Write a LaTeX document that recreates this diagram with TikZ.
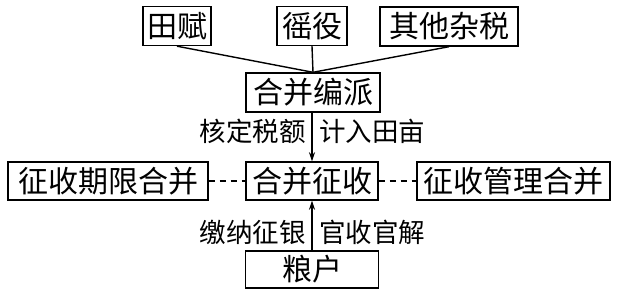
\documentclass[tikz,border=0pt]{standalone}
\usepackage{fontspec}
\newfontfamily\cjk{Noto Sans CJK SC}
\usetikzlibrary{arrows.meta}
\begin{document}
\begin{tikzpicture}[x=1pt,y=-1pt,
  box/.style={draw, line width=1.4pt, inner sep=0pt, minimum height=39pt, font=\cjk\fontsize{30}{30}\selectfont},
  lbl/.style={inner sep=0pt, font=\cjk\fontsize{26.5}{26.5}\selectfont},
  conn/.style={line width=1.4pt},
  arr/.style={line width=1.4pt, -{Stealth[length=9pt,width=6pt]}},
  dashconn/.style={line width=1.4pt, dash pattern=on 6pt off 5pt}]
\useasboundingbox (0,0) rectangle (628,294);
\node[box, minimum width=68pt] (tianfu) at (177,26) {田赋};
\node[box, minimum width=70pt] (yaoyi) at (312,26) {徭役};
\node[box, minimum width=138pt] (qita) at (449,26.5) {其他杂税};
\node[box, minimum width=134pt] (bianpai) at (313,92.5) {合并编派};
\node[box, minimum width=132pt, minimum height=38pt] (zhengshou) at (312,181) {合并征收};
\node[box, minimum width=200pt, minimum height=38pt] (qixian) at (108,181) {征收期限合并};
\node[box, minimum width=193pt, minimum height=38pt] (guanli) at (513.5,181) {征收管理合并};
\node[box, minimum width=133pt, minimum height=37pt] (lianghu) at (312,269.5) {粮户};
\draw[conn] (tianfu.south) -- (bianpai.north);
\draw[conn] (yaoyi.south) -- (bianpai.north);
\draw[conn] (qita.south) -- (bianpai.north);
\draw[arr] (bianpai.south -| zhengshou.north) -- (zhengshou.north);
\draw[arr] (lianghu.north) -- (zhengshou.south);
\draw[dashconn] (qixian.east) -- (zhengshou.west);
\draw[dashconn] (zhengshou.east) -- (guanli.west);
\node[lbl, anchor=east] (l1) at (306,131) {核定税额};
\node[lbl, anchor=west] (l2) at (319,131) {计入田亩};
\node[lbl, anchor=east] (l3) at (306,232) {缴纳征银};
\node[lbl, anchor=west] (l4) at (319,232) {官收官解};
\end{tikzpicture}
\end{document}
